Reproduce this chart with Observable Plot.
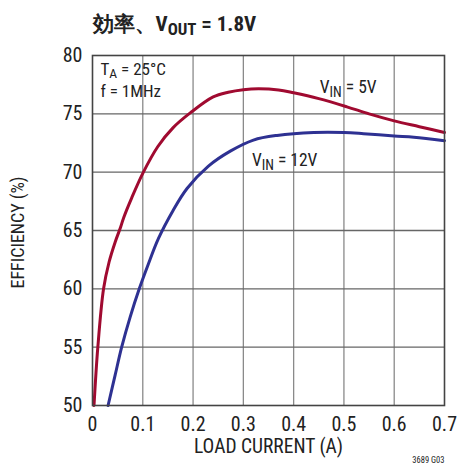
<!DOCTYPE html>
<html>
<head>
<meta charset="utf-8">
<script src="https://cdn.jsdelivr.net/npm/d3@7"></script>
<script src="https://cdn.jsdelivr.net/npm/@observablehq/plot@0.6"></script>
<style>
  html, body { margin: 0; padding: 0; background: #fff; }
  svg { font-family: "Liberation Sans Narrow", "Roboto Condensed", "DejaVu Sans Condensed", "Liberation Sans", sans-serif; }
</style>
</head>
<body>
<div id="chart"></div>
<script>
// Data
const vin5Current = [0.003, 0.0106, 0.022, 0.033, 0.045, 0.056, 0.062, 0.078, 0.1, 0.13, 0.16, 0.195, 0.24, 0.27, 0.30, 0.33, 0.37, 0.4, 0.45, 0.506, 0.55, 0.6, 0.65, 0.7];
const vin5Eff     = [50, 55, 60, 62.3, 64.0, 65.3, 66.1, 67.8, 69.9, 72.2, 73.8, 75.1, 76.45, 76.85, 77.07, 77.15, 77.05, 76.8, 76.3, 75.6, 75.0, 74.4, 73.9, 73.4];
const vin12Current = [0.031, 0.045, 0.058, 0.075, 0.093, 0.11, 0.131, 0.16, 0.188, 0.23, 0.274, 0.32, 0.367, 0.44, 0.5, 0.539, 0.6, 0.639, 0.7];
const vin12Eff     = [50, 52.6, 55, 57.6, 60, 62.0, 64.3, 66.7, 68.6, 70.5, 71.8, 72.75, 73.15, 73.4, 73.4, 73.3, 73.1, 73.0, 72.7];
const xTicks = [0, 0.1, 0.2, 0.3, 0.4, 0.5, 0.6, 0.7];
const yTicks = [50, 55, 60, 65, 70, 75, 80];
const titleText = "効率、V{OUT} = 1.8V";
const xLabel = "LOAD CURRENT (A)";
const yLabel = "EFFICIENCY (%)";
const seriesLabels = ["V{IN} = 5V", "V{IN} = 12V"];
const condLabels = ["T{A} = 25°C", "f = 1MHz"];
const figNote = "3689 G03";

const red = "#a00a30";
const blue = "#2e3192";

const s5 = vin5Current.map((x, i) => ({x, y: vin5Eff[i]}));
const s12 = vin12Current.map((x, i) => ({x, y: vin12Eff[i]}));

const chart = Plot.plot({
  width: 457,
  height: 466,
  marginLeft: 92,
  marginRight: 13,
  marginTop: 55,
  marginBottom: 61,
  x: {domain: [0, 0.7]},
  y: {domain: [50, 80]},
  marks: [
    Plot.gridX(xTicks.slice(1, -1), {stroke: "#8a8a8a", strokeOpacity: 1, strokeWidth: 1.3}),
    Plot.gridY(yTicks.slice(1, -1), {stroke: "#666", strokeOpacity: 1, strokeWidth: 1.3}),
    Plot.axisX(xTicks, {tickSize: 0, tickPadding: 11, fontSize: 20, fill: "#222", label: null,
      tickFormat: d => d === 0 ? "0" : d.toFixed(1)}),
    Plot.axisY(yTicks, {tickSize: 0, tickPadding: 10, fontSize: 20, fill: "#222", label: null}),
    Plot.line(s12, {x: "x", y: "y", stroke: blue, strokeWidth: 3, curve: "catmull-rom"}),
    Plot.line(s5, {x: "x", y: "y", stroke: red, strokeWidth: 3, curve: "catmull-rom"}),
    Plot.frame({stroke: "#444", strokeWidth: 1.6}),
    // condition labels (top-left inside frame)
    Plot.text([condLabels[0]], {frameAnchor: "top-left", dx: 8, dy: 7, fontSize: 17, fill: "#222", textAnchor: "start", lineAnchor: "top"}),
    Plot.text([condLabels[1]], {frameAnchor: "top-left", dx: 8, dy: 29, fontSize: 17, fill: "#222", textAnchor: "start", lineAnchor: "top"}),
    // series labels
    Plot.text([{x: 0.452, y: 76.75, t: seriesLabels[0]}], {x: "x", y: "y", text: "t", fontSize: 17.5, fill: "#222", textAnchor: "start", lineAnchor: "bottom"}),
    Plot.text([{x: 0.317, y: 70.55, t: seriesLabels[1]}], {x: "x", y: "y", text: "t", fontSize: 17.5, fill: "#222", textAnchor: "start", lineAnchor: "bottom"}),
    // title
    Plot.text([titleText], {frameAnchor: "top-left", dx: 0, dy: -25, fontSize: 21, fontWeight: "bold", fill: "#222", textAnchor: "start", lineAnchor: "bottom"}),
    // axis labels
    Plot.text([xLabel], {frameAnchor: "bottom", dy: 47, fontSize: 19.5, fill: "#222"}),
    Plot.text([yLabel], {frameAnchor: "left", dx: -74, dy: 2, rotate: -90, fontSize: 18, fill: "#222", textAnchor: "middle"}),
    Plot.text([figNote], {frameAnchor: "bottom-right", dx: 0, dy: 55, fontSize: 8.5, fill: "#222", textAnchor: "end", lineAnchor: "middle"})
  ]
});

// Convert "{...}" segments into subscripts
d3.select(chart).selectAll("text").each(function() {
  const el = d3.select(this);
  if (this.querySelector("tspan")) return;
  const s = this.textContent;
  if (!s.includes("{")) return;
  el.text(null);
  const parts = s.split(/(\{[^}]*\})/).filter(p => p.length);
  let lowered = false;
  parts.forEach(p => {
    if (p.startsWith("{")) {
      el.append("tspan").attr("dy", "0.28em").attr("font-size", "0.8em").text(p.slice(1, -1));
      lowered = true;
    } else {
      const t = el.append("tspan").text(p);
      if (lowered) { t.attr("dy", "-0.224em"); lowered = false; }
    }
  });
});

document.getElementById("chart").appendChild(chart);
</script>
</body>
</html>
